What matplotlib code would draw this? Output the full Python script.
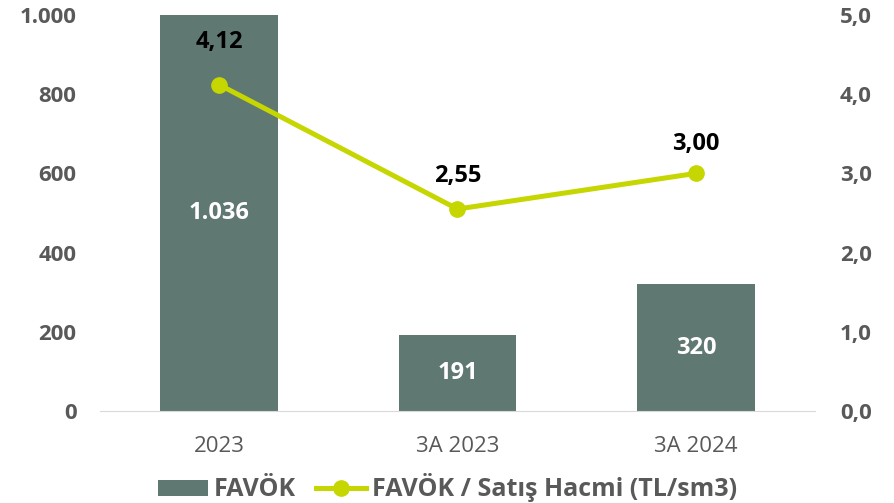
import matplotlib
matplotlib.use('Agg')
import matplotlib.pyplot as plt
import numpy as np
from matplotlib.lines import Line2D
from matplotlib.patches import Patch

categories = ['2023', '3A 2023', '3A 2024']
favok = [1036, 191, 320]
favok_labels = ['1.036', '191', '320']
ratio = [4.12, 2.55, 3.00]
ratio_labels = ['4,12', '2,55', '3,00']
left_ticks = ['0', '200', '400', '600', '800', '1.000']
right_ticks = ['0,0', '1,0', '2,0', '3,0', '4,0', '5,0']

bar_color = '#5f7872'
line_color = '#c5d600'
tick_color = '#595959'

plt.rcParams['font.family'] = ['Open Sans', 'DejaVu Sans']

fig = plt.figure(figsize=(8.95, 5.03), dpi=100)
ax = fig.add_axes([100 / 895, 92 / 503, 715 / 895, 396 / 503])
ax2 = ax.twinx()

x = np.arange(len(categories))
bars = ax.bar(x, favok, width=0.495, color=bar_color, zorder=2)
ax.set_xlim(-0.5, 2.5)
ax.set_ylim(0, 1000)
ax.set_yticks(np.arange(0, 1001, 200))
ax.set_yticklabels(left_ticks, fontsize=16, fontweight='bold', color=tick_color)
ax.set_xticks(x)
ax.set_xticklabels(categories, fontsize=16, color=tick_color)
ax.tick_params(axis='both', length=0)
ax.tick_params(axis='y', pad=17)
ax.tick_params(axis='x', pad=18)
for s in ['top', 'right', 'left']:
    ax.spines[s].set_visible(False)
ax.spines['bottom'].set_color('#d9d9d9')

for xi, v, lab in zip(x, favok, favok_labels):
    ymid = min(v, 1000) / 2
    ax.text(xi, ymid, lab, ha='center', va='center', color='white',
            fontsize=17, fontweight='bold', zorder=3)

ax2.plot(x, ratio, color=line_color, lw=3.6, marker='o', markersize=11,
         zorder=4)
ax2.set_ylim(0, 5)
ax2.set_yticks(np.arange(0, 6, 1))
ax2.set_yticklabels(right_ticks, fontsize=16, fontweight='bold', color=tick_color)
ax2.tick_params(axis='y', length=0, pad=18)
for s in ['top', 'right', 'left', 'bottom']:
    ax2.spines[s].set_visible(False)

offsets = [31, 24, 21]
for xi, v, lab, off in zip(x, ratio, ratio_labels, offsets):
    ax2.annotate(lab, (xi, v), xytext=(0, off), textcoords='offset points',
                 ha='center', va='center', fontsize=17, fontweight='bold',
                 color='black')

handles = [Patch(facecolor=bar_color, label='FAVÖK'),
           Line2D([0], [0], color=line_color, lw=3.6, marker='o',
                  markersize=11, label='FAVÖK / Satış Hacmi (TL/sm3)')]
leg = fig.legend(handles=handles, loc='center', bbox_to_anchor=(0.5, 0.03),
                 ncol=2, frameon=False, handlelength=2.0, handleheight=0.6,
                 handletextpad=0.25, columnspacing=0.8,
                 prop={'size': 18, 'weight': 'bold'})
for t in leg.get_texts():
    t.set_color(tick_color)

fig.savefig('out.png', dpi=100)
